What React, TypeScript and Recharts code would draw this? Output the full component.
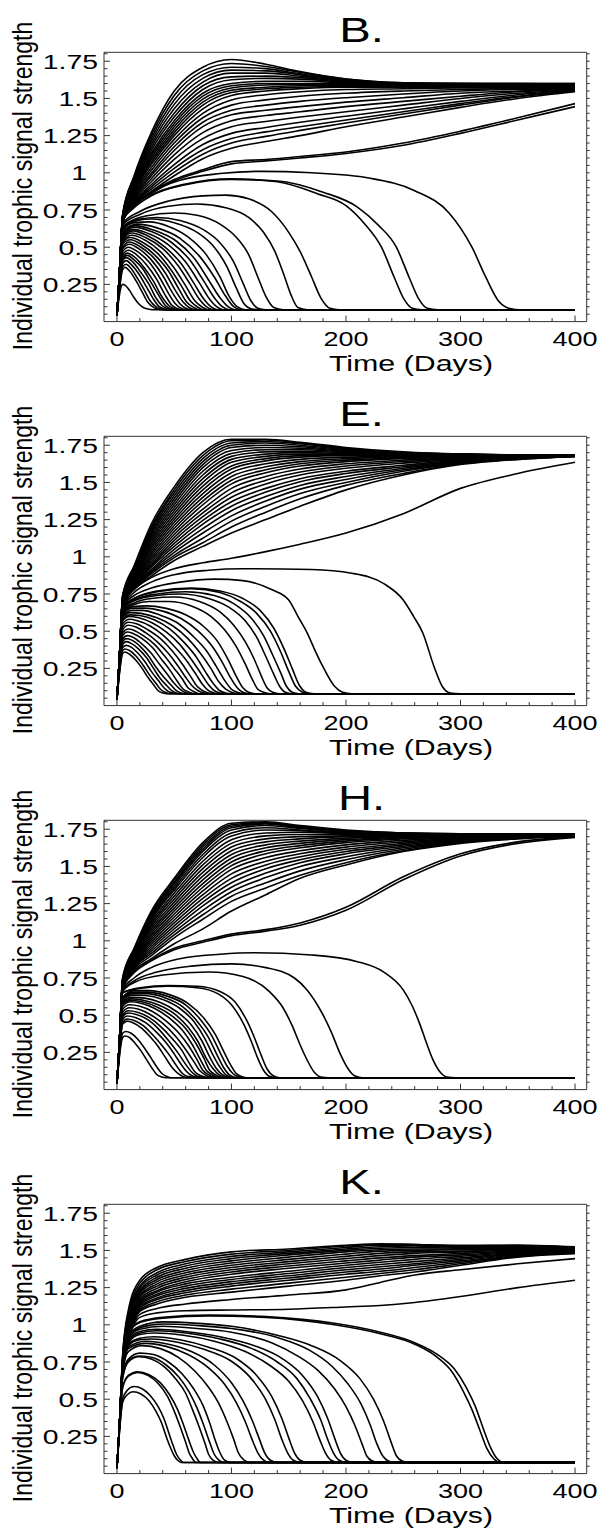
import React from 'react';
import { LineChart, Line, XAxis, YAxis } from 'recharts';

// ---------- axis ticks / labels ----------
const X_TICKS = [0, 20, 40, 60, 80, 100, 120, 140, 160, 180, 200, 220, 240, 260, 280, 300, 320, 340, 360, 380, 400];
const X_MAJOR = [0, 100, 200, 300, 400];
const Y_TICKS = [0.05, 0.1, 0.15, 0.2, 0.25, 0.3, 0.35, 0.4, 0.45, 0.5, 0.55, 0.6, 0.65, 0.7, 0.75, 0.8, 0.85, 0.9, 0.95, 1, 1.05, 1.1, 1.15, 1.2, 1.25, 1.3, 1.35, 1.4, 1.45, 1.5, 1.55, 1.6, 1.65, 1.7, 1.75, 1.8];
const Y_MAJOR = [0.25, 0.5, 0.75, 1, 1.25, 1.5, 1.75];
const TITLES = ['B.', 'E.', 'H.', 'K.'];
const X_LABEL = 'Time (Days)';
const Y_LABEL = 'Individual trophic signal strength';

// ---------- Panel B ----------
const B_T = [0, 2, 5, 15, 30, 50, 75, 100, 130, 160, 200, 250, 300, 350, 400];
const B_RISE = [
  [.04, .3, .72, .98, 1.27, 1.55, 1.71, 1.762, 1.73, 1.68, 1.63, 1.605, 1.60, 1.60, 1.60],
  [.04, .3, .72, .97, 1.25, 1.52, 1.685, 1.735, 1.715, 1.675, 1.63, 1.605, 1.60, 1.60, 1.60],
  [.04, .3, .71, .96, 1.23, 1.49, 1.66, 1.71, 1.70, 1.665, 1.625, 1.60, 1.60, 1.60, 1.595],
  [.04, .3, .71, .95, 1.21, 1.46, 1.635, 1.69, 1.685, 1.66, 1.62, 1.60, 1.60, 1.595, 1.59],
  [.04, .3, .71, .94, 1.19, 1.43, 1.61, 1.67, 1.67, 1.65, 1.62, 1.60, 1.595, 1.59, 1.59],
  [.04, .3, .70, .93, 1.17, 1.40, 1.585, 1.645, 1.65, 1.64, 1.615, 1.60, 1.595, 1.59, 1.585],
  [.04, .3, .70, .92, 1.15, 1.375, 1.56, 1.625, 1.635, 1.63, 1.61, 1.595, 1.59, 1.585, 1.58],
  [.04, .3, .70, .91, 1.13, 1.35, 1.535, 1.60, 1.615, 1.615, 1.605, 1.595, 1.59, 1.585, 1.58],
  [.04, .3, .70, .905, 1.115, 1.33, 1.515, 1.585, 1.60, 1.60, 1.60, 1.59, 1.585, 1.58, 1.575],
  [.04, .3, .70, .90, 1.10, 1.31, 1.495, 1.57, 1.59, 1.595, 1.595, 1.59, 1.585, 1.58, 1.575],
  [.04, .3, .70, .89, 1.085, 1.29, 1.475, 1.555, 1.575, 1.585, 1.585, 1.585, 1.58, 1.575, 1.57],
  [.04, .3, .70, .885, 1.07, 1.27, 1.455, 1.54, 1.565, 1.575, 1.58, 1.58, 1.58, 1.575, 1.57],
  [.04, .3, .70, .875, 1.055, 1.25, 1.43, 1.52, 1.55, 1.565, 1.575, 1.575, 1.575, 1.57, 1.565],
  [.04, .3, .69, .865, 1.035, 1.225, 1.40, 1.49, 1.525, 1.545, 1.56, 1.565, 1.57, 1.57, 1.565],
  [.04, .3, .69, .855, 1.015, 1.20, 1.37, 1.455, 1.49, 1.515, 1.535, 1.55, 1.56, 1.565, 1.565],
  [.04, .3, .69, .845, .995, 1.175, 1.34, 1.42, 1.455, 1.48, 1.505, 1.53, 1.55, 1.56, 1.56],
  [.04, .3, .69, .835, .98, 1.15, 1.31, 1.39, 1.42, 1.445, 1.475, 1.505, 1.535, 1.55, 1.56],
  [.04, .3, .68, .825, .96, 1.12, 1.27, 1.35, 1.385, 1.41, 1.445, 1.48, 1.515, 1.545, 1.56],
  [.04, .3, .68, .815, .94, 1.09, 1.23, 1.31, 1.345, 1.375, 1.41, 1.455, 1.50, 1.535, 1.555],
  [.04, .3, .68, .805, .92, 1.055, 1.19, 1.265, 1.305, 1.34, 1.38, 1.43, 1.48, 1.525, 1.555],
  [.04, .3, .68, .80, .905, 1.03, 1.155, 1.23, 1.275, 1.31, 1.355, 1.41, 1.465, 1.515, 1.55],
  [.04, .3, .67, .795, .89, 1.005, 1.125, 1.20, 1.245, 1.285, 1.335, 1.395, 1.455, 1.51, 1.55],
  [.04, .3, .67, .79, .875, .98, 1.095, 1.165, 1.21, 1.25, 1.31, 1.375, 1.44, 1.50, 1.545],
  [.04, .3, .67, .785, .87, .955, 1.02, 1.075, 1.09, 1.11, 1.14, 1.20, 1.28, 1.37, 1.465],
  [.04, .3, .67, .78, .86, .945, 1.01, 1.06, 1.08, 1.10, 1.13, 1.185, 1.265, 1.355, 1.445],
];
const B_FALL = [
  [0, .04, 2, .3, 5, .68, 15, .78, 30, .87, 55, .95, 90, .995, 125, 1.01, 170, 1.0, 220, .965, 260, .88, 290, .73, 310, .5, 322, .3, 333, .14, 343, .088, 352, .08, 400, .08],
  [0, .04, 2, .3, 5, .68, 15, .77, 30, .85, 60, .925, 100, .96, 140, .94, 175, .86, 200, .78, 216, .66, 231, .5, 242, .3, 250, .16, 258, .09, 266, .08, 400, .08],
  [0, .04, 2, .3, 5, .68, 15, .765, 30, .845, 60, .92, 100, .955, 140, .945, 180, .87, 210, .77, 228, .65, 244, .5, 255, .3, 263, .16, 271, .09, 280, .08, 400, .08],
  [0, .04, 2, .3, 5, .66, 20, .74, 45, .81, 75, .845, 95, .85, 115, .825, 135, .74, 150, .6, 160, .47, 170, .3, 178, .16, 186, .09, 194, .08, 400, .08],
  [0, .04, 2, .3, 5, .65, 20, .72, 45, .775, 70, .79, 95, .765, 115, .7, 128, .6, 138, .47, 146, .31, 152, .18, 158, .095, 166, .08, 400, .08],
  [0, .04, 2, .3, 5, .64, 25, .71, 50, .73, 70, .715, 90, .655, 105, .56, 115, .45, 123, .3, 130, .17, 137, .095, 145, .08, 400, .08],
  [0, .04, 2, .3, 5, .63, 20, .69, 35, .70, 55, .68, 75, .62, 90, .53, 102, .4, 110, .26, 117, .14, 123, .09, 130, .08, 400, .08],
  [0, .04, 2, .3, 5, .62, 18, .68, 30, .69, 50, .665, 70, .6, 85, .5, 96, .37, 104, .23, 111, .12, 118, .085, 125, .08, 400, .08],
  [0, .04, 2, .3, 5, .61, 15, .665, 28, .67, 45, .64, 62, .57, 78, .45, 90, .3, 98, .17, 105, .1, 112, .08, 400, .08],
  [0, .04, 2, .28, 5, .6, 18, .655, 35, .63, 55, .56, 72, .44, 85, .3, 95, .17, 102, .1, 108, .08, 400, .08],
  [0, .04, 2, .28, 5, .59, 16, .645, 32, .615, 52, .54, 68, .42, 80, .28, 90, .16, 97, .1, 103, .08, 400, .08],
  [0, .04, 2, .28, 5, .58, 15, .635, 30, .605, 48, .53, 64, .41, 76, .27, 86, .15, 92, .1, 98, .08, 400, .08],
  [0, .04, 2, .27, 5, .57, 14, .62, 28, .59, 45, .515, 60, .4, 72, .26, 81, .15, 87, .1, 93, .08, 400, .08],
  [0, .04, 2, .27, 5, .56, 14, .61, 26, .58, 42, .5, 56, .39, 67, .26, 76, .15, 82, .1, 88, .08, 400, .08],
  [0, .04, 2, .27, 5, .55, 13, .595, 25, .565, 40, .49, 53, .38, 64, .25, 72, .15, 78, .1, 84, .08, 400, .08],
  [0, .04, 2, .26, 5, .54, 13, .58, 24, .55, 38, .47, 50, .36, 60, .24, 68, .14, 74, .1, 80, .08, 400, .08],
  [0, .04, 2, .26, 5, .53, 12, .565, 22, .535, 36, .455, 47, .35, 57, .23, 64, .14, 70, .1, 76, .08, 400, .08],
  [0, .04, 2, .26, 5, .52, 12, .55, 21, .52, 34, .44, 45, .34, 54, .22, 61, .13, 67, .095, 72, .08, 400, .08],
  [0, .04, 2, .25, 5, .5, 11, .535, 20, .505, 32, .43, 42, .33, 51, .21, 58, .13, 63, .095, 68, .08, 400, .08],
  [0, .04, 2, .25, 5, .49, 11, .52, 19, .49, 30, .415, 40, .31, 48, .2, 55, .12, 60, .09, 64, .08, 400, .08],
  [0, .04, 2, .24, 5, .47, 10, .5, 18, .47, 28, .4, 37, .3, 45, .19, 51, .12, 56, .09, 60, .08, 400, .08],
  [0, .04, 2, .24, 5, .45, 10, .48, 17, .45, 26, .38, 35, .28, 42, .18, 48, .11, 52, .09, 56, .08, 400, .08],
  [0, .04, 2, .23, 5, .43, 9, .46, 16, .43, 24, .36, 32, .27, 39, .17, 45, .11, 49, .09, 53, .08, 400, .08],
  [0, .04, 2, .23, 5, .42, 9, .445, 15, .415, 23, .35, 30, .26, 37, .17, 42, .11, 46, .09, 50, .08, 400, .08],
  [0, .04, 2, .22, 5, .41, 8, .43, 14, .4, 21, .33, 28, .25, 34, .16, 39, .11, 43, .09, 47, .08, 400, .08],
  [0, .04, 2, .22, 5, .39, 8, .41, 13, .38, 20, .31, 26, .23, 32, .15, 37, .1, 41, .085, 45, .08, 400, .08],
  [0, .04, 2, .21, 5, .37, 8, .385, 12, .36, 18, .29, 24, .21, 29, .14, 34, .1, 38, .085, 42, .08, 400, .08],
  [0, .04, 2, .2, 5, .35, 7, .365, 11, .34, 17, .27, 22, .2, 27, .13, 31, .1, 35, .085, 39, .08, 400, .08],
  [0, .04, 2, .17, 5, .25, 7, .245, 11, .21, 15, .16, 19, .12, 23, .095, 27, .085, 31, .08, 400, .08],
];

// ---------- Panel E ----------
const E_T = [0, 2, 5, 15, 30, 50, 75, 100, 130, 160, 200, 250, 300, 350, 400];
const E_RISE = [
  [.04, .3, .74, .94, 1.22, 1.47, 1.70, 1.79, 1.79, 1.77, 1.735, 1.705, 1.69, 1.685, 1.685],
  [.04, .3, .74, .93, 1.2, 1.45, 1.68, 1.78, 1.785, 1.765, 1.73, 1.70, 1.69, 1.685, 1.685],
  [.04, .3, .73, .925, 1.19, 1.43, 1.66, 1.765, 1.775, 1.76, 1.725, 1.70, 1.69, 1.685, 1.685],
  [.04, .3, .73, .92, 1.175, 1.41, 1.64, 1.75, 1.765, 1.75, 1.72, 1.695, 1.69, 1.685, 1.685],
  [.04, .3, .73, .91, 1.16, 1.39, 1.62, 1.735, 1.75, 1.74, 1.715, 1.695, 1.685, 1.685, 1.68],
  [.04, .3, .72, .905, 1.145, 1.37, 1.60, 1.715, 1.735, 1.73, 1.71, 1.69, 1.685, 1.68, 1.68],
  [.04, .3, .72, .9, 1.13, 1.35, 1.575, 1.695, 1.72, 1.72, 1.705, 1.69, 1.685, 1.68, 1.68],
  [.04, .3, .72, .89, 1.115, 1.33, 1.55, 1.675, 1.705, 1.71, 1.70, 1.69, 1.685, 1.68, 1.68],
  [.04, .3, .72, .885, 1.10, 1.31, 1.525, 1.655, 1.69, 1.70, 1.695, 1.685, 1.68, 1.68, 1.68],
  [.04, .3, .71, .88, 1.085, 1.29, 1.50, 1.635, 1.675, 1.69, 1.69, 1.685, 1.68, 1.68, 1.68],
  [.04, .3, .71, .87, 1.07, 1.27, 1.475, 1.61, 1.66, 1.68, 1.685, 1.68, 1.68, 1.68, 1.68],
  [.04, .3, .71, .865, 1.055, 1.25, 1.45, 1.59, 1.645, 1.67, 1.68, 1.68, 1.68, 1.68, 1.68],
  [.04, .3, .71, .86, 1.04, 1.23, 1.425, 1.565, 1.625, 1.655, 1.67, 1.675, 1.68, 1.68, 1.68],
  [.04, .3, .70, .85, 1.025, 1.21, 1.40, 1.54, 1.605, 1.64, 1.66, 1.67, 1.675, 1.68, 1.68],
  [.04, .3, .70, .845, 1.01, 1.19, 1.375, 1.515, 1.585, 1.625, 1.65, 1.665, 1.675, 1.68, 1.68],
  [.04, .3, .70, .84, .995, 1.17, 1.35, 1.49, 1.565, 1.61, 1.64, 1.66, 1.67, 1.675, 1.68],
  [.04, .3, .70, .83, .98, 1.15, 1.32, 1.46, 1.54, 1.59, 1.625, 1.65, 1.665, 1.675, 1.68],
  [.04, .3, .70, .825, .965, 1.13, 1.295, 1.43, 1.515, 1.57, 1.61, 1.64, 1.66, 1.67, 1.68],
  [.04, .3, .69, .82, .95, 1.11, 1.27, 1.40, 1.49, 1.55, 1.595, 1.63, 1.655, 1.67, 1.68],
  [.04, .3, .69, .81, .94, 1.09, 1.245, 1.37, 1.46, 1.525, 1.575, 1.615, 1.65, 1.67, 1.68],
  [.04, .3, .69, .805, .93, 1.07, 1.22, 1.34, 1.435, 1.505, 1.56, 1.605, 1.645, 1.665, 1.68],
  [.04, .3, .69, .80, .915, 1.05, 1.19, 1.31, 1.405, 1.48, 1.54, 1.595, 1.64, 1.665, 1.68],
  [.04, .3, .69, .795, .905, 1.03, 1.16, 1.275, 1.375, 1.455, 1.52, 1.585, 1.635, 1.66, 1.675],
  [.04, .3, .68, .79, .895, 1.01, 1.125, 1.24, 1.34, 1.425, 1.50, 1.575, 1.63, 1.66, 1.675],
  [.04, .3, .68, .785, .885, .995, 1.095, 1.20, 1.30, 1.39, 1.48, 1.56, 1.625, 1.655, 1.675],
  [.04, .3, .68, .78, .87, .975, 1.07, 1.16, 1.25, 1.34, 1.45, 1.55, 1.62, 1.655, 1.675],
  [.04, .3, .68, .78, .86, .92, .96, .99, 1.035, 1.085, 1.16, 1.29, 1.46, 1.56, 1.635],
];
const E_FALL = [
  [0, .04, 2, .3, 5, .67, 15, .76, 30, .83, 50, .88, 80, .91, 110, .92, 170, .915, 205, .89, 233, .82, 250, .71, 259, .6, 267, .49, 277, .26, 284, .13, 291, .085, 300, .08, 400, .08],
  [0, .04, 2, .3, 5, .67, 15, .74, 30, .79, 55, .83, 85, .85, 110, .84, 135, .78, 150, .71, 158, .6, 166, .49, 173, .37, 180, .26, 190, .13, 197, .09, 205, .08, 400, .08],
  [0, .04, 2, .3, 5, .66, 15, .72, 35, .77, 65, .79, 90, .77, 110, .72, 125, .64, 137, .52, 146, .38, 153, .25, 159, .14, 165, .09, 172, .08, 400, .08],
  [0, .04, 2, .3, 5, .66, 15, .72, 35, .765, 65, .785, 90, .76, 108, .7, 122, .62, 134, .5, 143, .36, 150, .23, 156, .13, 162, .09, 168, .08, 400, .08],
  [0, .04, 2, .3, 5, .65, 15, .71, 35, .75, 60, .765, 85, .74, 103, .68, 117, .59, 128, .47, 136, .34, 143, .22, 148, .13, 153, .09, 159, .08, 400, .08],
  [0, .04, 2, .3, 5, .65, 15, .705, 35, .74, 55, .75, 80, .72, 98, .66, 112, .57, 122, .46, 130, .33, 137, .21, 142, .13, 147, .09, 153, .08, 400, .08],
  [0, .04, 2, .3, 5, .64, 15, .69, 30, .72, 50, .73, 72, .7, 90, .63, 102, .54, 112, .43, 120, .31, 126, .2, 131, .12, 136, .09, 142, .08, 400, .08],
  [0, .04, 2, .3, 5, .63, 15, .68, 28, .7, 45, .7, 65, .67, 82, .6, 94, .51, 104, .4, 112, .28, 118, .18, 123, .11, 128, .09, 134, .08, 400, .08],
  [0, .04, 2, .29, 5, .62, 14, .665, 26, .67, 42, .655, 60, .61, 76, .53, 88, .43, 97, .31, 104, .2, 110, .12, 115, .09, 121, .08, 400, .08],
  [0, .04, 2, .29, 5, .61, 13, .655, 24, .655, 40, .635, 56, .585, 71, .5, 83, .4, 92, .29, 99, .19, 105, .12, 110, .09, 116, .08, 400, .08],
  [0, .04, 2, .28, 5, .6, 13, .64, 22, .64, 37, .61, 52, .56, 66, .47, 78, .37, 87, .26, 94, .17, 100, .11, 105, .09, 111, .08, 400, .08],
  [0, .04, 2, .28, 5, .59, 12, .625, 21, .62, 35, .59, 49, .535, 62, .45, 73, .35, 82, .25, 89, .16, 95, .11, 100, .09, 106, .08, 400, .08],
  [0, .04, 2, .28, 5, .58, 12, .61, 20, .605, 33, .575, 46, .515, 58, .43, 69, .33, 77, .23, 84, .15, 90, .1, 95, .085, 100, .08, 400, .08],
  [0, .04, 2, .27, 5, .57, 11, .6, 19, .59, 31, .555, 43, .495, 55, .41, 65, .31, 73, .22, 80, .14, 85, .1, 90, .085, 95, .08, 400, .08],
  [0, .04, 2, .27, 5, .55, 11, .58, 18, .57, 29, .535, 40, .475, 51, .39, 61, .3, 69, .21, 75, .14, 80, .1, 85, .085, 90, .08, 400, .08],
  [0, .04, 2, .27, 5, .53, 10, .56, 17, .55, 27, .51, 38, .45, 48, .37, 57, .28, 64, .2, 70, .13, 75, .1, 80, .085, 85, .08, 400, .08],
  [0, .04, 2, .26, 5, .51, 10, .54, 16, .53, 25, .49, 35, .43, 45, .35, 53, .27, 60, .19, 66, .13, 71, .1, 76, .085, 80, .08, 400, .08],
  [0, .04, 2, .26, 5, .49, 10, .515, 15, .505, 23, .47, 33, .41, 42, .33, 50, .25, 57, .18, 62, .12, 67, .095, 72, .08, 400, .08],
  [0, .04, 2, .25, 5, .47, 9, .495, 14, .485, 22, .45, 31, .39, 39, .31, 47, .23, 53, .16, 58, .11, 63, .09, 68, .08, 400, .08],
  [0, .04, 2, .25, 5, .45, 9, .47, 14, .46, 21, .42, 29, .36, 37, .28, 44, .21, 50, .15, 55, .11, 59, .09, 64, .08, 400, .08],
  [0, .04, 2, .24, 5, .43, 8, .45, 13, .44, 20, .4, 27, .34, 34, .26, 41, .19, 47, .14, 52, .1, 56, .085, 60, .08, 400, .08],
  [0, .04, 2, .23, 5, .41, 8, .43, 12, .42, 19, .38, 26, .32, 32, .25, 38, .18, 44, .13, 48, .1, 52, .085, 56, .08, 400, .08],
  [0, .04, 2, .22, 5, .39, 8, .405, 12, .395, 18, .355, 24, .3, 30, .23, 36, .17, 41, .12, 45, .095, 49, .085, 53, .08, 400, .08],
  [0, .04, 2, .21, 5, .37, 7, .38, 11, .37, 17, .33, 23, .27, 29, .2, 34, .15, 38, .11, 42, .09, 46, .08, 400, .08],
  [0, .04, 2, .2, 5, .35, 7, .36, 11, .345, 16, .31, 22, .25, 27, .19, 32, .14, 36, .1, 40, .085, 44, .08, 400, .08],
];

// ---------- Panel H ----------
const H_T = [0, 2, 5, 15, 30, 50, 75, 100, 130, 160, 200, 250, 300, 350, 400];
const H_RISE = [
  [.04, .3, .75, .95, 1.2, 1.42, 1.66, 1.79, 1.80, 1.775, 1.745, 1.725, 1.72, 1.72, 1.72],
  [.04, .3, .75, .945, 1.19, 1.41, 1.645, 1.78, 1.795, 1.77, 1.74, 1.725, 1.72, 1.72, 1.72],
  [.04, .3, .74, .94, 1.18, 1.395, 1.63, 1.77, 1.79, 1.765, 1.74, 1.725, 1.72, 1.72, 1.72],
  [.04, .3, .74, .935, 1.17, 1.385, 1.615, 1.76, 1.785, 1.76, 1.735, 1.72, 1.72, 1.72, 1.715],
  [.04, .3, .74, .93, 1.16, 1.37, 1.60, 1.745, 1.775, 1.755, 1.73, 1.72, 1.715, 1.715, 1.715],
  [.04, .3, .73, .925, 1.15, 1.355, 1.58, 1.725, 1.76, 1.745, 1.725, 1.715, 1.715, 1.715, 1.715],
  [.04, .3, .73, .92, 1.14, 1.34, 1.56, 1.705, 1.745, 1.74, 1.72, 1.715, 1.715, 1.715, 1.715],
  [.04, .3, .73, .91, 1.125, 1.32, 1.535, 1.68, 1.725, 1.73, 1.72, 1.715, 1.715, 1.715, 1.71],
  [.04, .3, .73, .905, 1.11, 1.30, 1.51, 1.655, 1.705, 1.715, 1.715, 1.71, 1.71, 1.71, 1.71],
  [.04, .3, .72, .9, 1.095, 1.28, 1.485, 1.63, 1.685, 1.70, 1.705, 1.71, 1.71, 1.71, 1.71],
  [.04, .3, .72, .89, 1.08, 1.26, 1.46, 1.605, 1.665, 1.685, 1.70, 1.705, 1.71, 1.71, 1.71],
  [.04, .3, .72, .885, 1.065, 1.24, 1.435, 1.58, 1.645, 1.67, 1.69, 1.70, 1.705, 1.71, 1.71],
  [.04, .3, .72, .88, 1.05, 1.22, 1.41, 1.555, 1.625, 1.655, 1.68, 1.695, 1.705, 1.71, 1.71],
  [.04, .3, .71, .87, 1.035, 1.20, 1.385, 1.53, 1.605, 1.64, 1.67, 1.69, 1.70, 1.705, 1.71],
  [.04, .3, .71, .865, 1.02, 1.18, 1.36, 1.505, 1.585, 1.625, 1.66, 1.685, 1.70, 1.705, 1.71],
  [.04, .3, .71, .86, 1.005, 1.16, 1.335, 1.48, 1.56, 1.605, 1.645, 1.675, 1.695, 1.705, 1.71],
  [.04, .3, .71, .85, .99, 1.14, 1.31, 1.45, 1.535, 1.585, 1.63, 1.665, 1.69, 1.70, 1.71],
  [.04, .3, .70, .845, .975, 1.12, 1.285, 1.42, 1.51, 1.565, 1.615, 1.655, 1.685, 1.70, 1.71],
  [.04, .3, .70, .84, .96, 1.10, 1.26, 1.39, 1.485, 1.545, 1.60, 1.645, 1.68, 1.70, 1.71],
  [.04, .3, .70, .83, .945, 1.08, 1.235, 1.36, 1.455, 1.525, 1.585, 1.635, 1.675, 1.695, 1.705],
  [.04, .3, .70, .825, .93, 1.06, 1.205, 1.33, 1.425, 1.50, 1.565, 1.625, 1.67, 1.695, 1.705],
  [.04, .3, .69, .82, .915, 1.04, 1.175, 1.30, 1.39, 1.47, 1.545, 1.615, 1.665, 1.69, 1.705],
  [.04, .3, .69, .81, .90, 1.02, 1.145, 1.265, 1.355, 1.44, 1.525, 1.605, 1.66, 1.69, 1.705],
  [.04, .3, .69, .80, .88, .98, 1.08, 1.20, 1.31, 1.42, 1.51, 1.60, 1.655, 1.685, 1.705],
  [.04, .3, .68, .79, .87, .95, 1.0, 1.045, 1.075, 1.12, 1.225, 1.43, 1.585, 1.665, 1.70],
  [.04, .3, .68, .785, .865, .94, .99, 1.035, 1.065, 1.105, 1.205, 1.41, 1.57, 1.655, 1.695],
];
const H_FALL = [
  [0, .04, 2, .3, 5, .67, 15, .75, 30, .82, 55, .88, 90, .91, 120, .92, 170, .905, 210, .86, 233, .79, 250, .67, 258, .56, 264, .45, 270, .32, 276, .2, 282, .12, 288, .085, 296, .08, 400, .08],
  [0, .04, 2, .3, 5, .66, 15, .73, 35, .79, 65, .83, 100, .845, 130, .82, 155, .75, 166, .67, 178, .53, 187, .39, 195, .24, 201, .15, 207, .095, 214, .08, 400, .08],
  [0, .04, 2, .3, 5, .66, 15, .72, 40, .77, 80, .79, 110, .76, 133, .66, 145, .55, 153, .43, 160, .3, 166, .2, 172, .12, 178, .085, 185, .08, 400, .08],
  [0, .04, 2, .3, 5, .65, 20, .685, 45, .70, 70, .695, 90, .66, 103, .59, 113, .47, 120, .35, 126, .23, 131, .14, 136, .095, 142, .08, 400, .08],
  [0, .04, 2, .3, 5, .65, 20, .68, 45, .695, 70, .685, 88, .645, 100, .57, 110, .45, 117, .33, 123, .21, 128, .13, 133, .09, 139, .08, 400, .08],
  [0, .04, 2, .3, 5, .62, 15, .665, 28, .665, 45, .64, 62, .58, 76, .48, 86, .37, 93, .26, 99, .17, 104, .11, 108, .09, 113, .08, 400, .08],
  [0, .04, 2, .29, 5, .615, 15, .655, 27, .655, 43, .63, 60, .57, 73, .47, 83, .36, 90, .25, 96, .16, 101, .11, 105, .09, 110, .08, 400, .08],
  [0, .04, 2, .29, 5, .61, 14, .645, 26, .645, 41, .62, 57, .56, 70, .46, 80, .35, 87, .24, 93, .15, 98, .1, 102, .085, 107, .08, 400, .08],
  [0, .04, 2, .29, 5, .6, 14, .635, 25, .632, 40, .605, 55, .545, 68, .45, 77, .34, 84, .23, 90, .15, 95, .1, 99, .085, 104, .08, 400, .08],
  [0, .04, 2, .28, 5, .59, 13, .62, 24, .615, 38, .585, 52, .525, 65, .435, 74, .33, 81, .22, 87, .14, 92, .1, 96, .085, 101, .08, 400, .08],
  [0, .04, 2, .28, 5, .58, 13, .61, 23, .6, 36, .57, 50, .51, 62, .42, 71, .32, 78, .21, 84, .14, 89, .1, 93, .085, 98, .08, 400, .08],
  [0, .04, 2, .28, 5, .57, 12, .6, 22, .59, 35, .555, 48, .495, 60, .41, 69, .31, 76, .21, 81, .13, 86, .1, 90, .085, 95, .08, 400, .08],
  [0, .04, 2, .27, 5, .56, 12, .59, 21, .58, 33, .545, 46, .48, 57, .4, 66, .3, 73, .2, 78, .13, 83, .1, 87, .085, 92, .08, 400, .08],
  [0, .04, 2, .27, 5, .54, 11, .57, 20, .56, 31, .525, 43, .46, 54, .38, 63, .29, 70, .2, 75, .13, 80, .1, 84, .085, 89, .08, 400, .08],
  [0, .04, 2, .26, 5, .52, 11, .55, 19, .54, 29, .505, 40, .445, 51, .36, 60, .27, 67, .19, 72, .13, 77, .1, 81, .085, 86, .08, 400, .08],
  [0, .04, 2, .26, 5, .5, 10, .53, 18, .52, 28, .485, 38, .425, 48, .345, 57, .26, 63, .18, 68, .12, 73, .095, 77, .085, 82, .08, 400, .08],
  [0, .04, 2, .25, 5, .49, 10, .515, 17, .505, 27, .47, 36, .41, 45, .33, 53, .25, 60, .17, 65, .12, 69, .095, 73, .085, 78, .08, 400, .08],
  [0, .04, 2, .25, 5, .47, 9, .495, 16, .485, 25, .45, 34, .39, 43, .315, 50, .24, 56, .17, 61, .12, 65, .095, 69, .085, 74, .08, 400, .08],
  [0, .04, 2, .24, 5, .45, 9, .475, 15, .465, 23, .43, 31, .37, 39, .3, 46, .23, 52, .16, 57, .11, 61, .09, 65, .085, 70, .08, 400, .08],
  [0, .04, 2, .24, 5, .44, 9, .46, 14, .45, 22, .41, 29, .355, 36, .29, 42, .22, 48, .15, 53, .11, 57, .09, 61, .08, 400, .08],
  [0, .04, 2, .22, 5, .38, 8, .39, 12, .38, 18, .34, 24, .28, 30, .21, 35, .15, 39, .11, 43, .09, 47, .08, 400, .08],
  [0, .04, 2, .21, 5, .35, 7, .36, 11, .35, 16, .31, 21, .26, 26, .2, 31, .14, 35, .1, 39, .085, 43, .08, 400, .08],
];

// ---------- Panel K ----------
const K_T = [0, 2, 5, 10, 20, 35, 60, 100, 150, 200, 230, 260, 300, 350, 400];
const K_RISE = [
  [.035, .3, .8, 1.1, 1.3, 1.385, 1.44, 1.49, 1.51, 1.535, 1.545, 1.54, 1.535, 1.535, 1.525],
  [.035, .3, .79, 1.08, 1.28, 1.37, 1.425, 1.475, 1.50, 1.53, 1.54, 1.54, 1.53, 1.535, 1.52],
  [.035, .3, .78, 1.06, 1.26, 1.35, 1.41, 1.46, 1.49, 1.52, 1.535, 1.535, 1.525, 1.53, 1.515],
  [.035, .3, .77, 1.05, 1.245, 1.335, 1.395, 1.445, 1.48, 1.51, 1.525, 1.53, 1.52, 1.525, 1.515],
  [.035, .3, .77, 1.04, 1.23, 1.32, 1.38, 1.43, 1.47, 1.50, 1.515, 1.52, 1.515, 1.52, 1.51],
  [.035, .3, .76, 1.03, 1.22, 1.305, 1.365, 1.415, 1.455, 1.49, 1.505, 1.51, 1.51, 1.515, 1.51],
  [.035, .3, .76, 1.02, 1.21, 1.29, 1.35, 1.40, 1.44, 1.475, 1.495, 1.50, 1.505, 1.51, 1.505],
  [.035, .3, .75, 1.01, 1.195, 1.275, 1.335, 1.385, 1.425, 1.46, 1.48, 1.49, 1.495, 1.505, 1.505],
  [.035, .3, .75, 1.0, 1.185, 1.26, 1.32, 1.37, 1.41, 1.445, 1.465, 1.48, 1.49, 1.50, 1.50],
  [.035, .3, .74, .99, 1.17, 1.245, 1.305, 1.355, 1.395, 1.43, 1.45, 1.465, 1.48, 1.495, 1.50],
  [.035, .3, .74, .98, 1.16, 1.23, 1.29, 1.34, 1.38, 1.415, 1.435, 1.455, 1.47, 1.49, 1.495],
  [.035, .3, .73, .97, 1.15, 1.22, 1.275, 1.32, 1.36, 1.40, 1.42, 1.44, 1.46, 1.485, 1.495],
  [.035, .3, .73, .96, 1.14, 1.205, 1.26, 1.305, 1.345, 1.385, 1.405, 1.425, 1.45, 1.48, 1.49],
  [.035, .3, .72, .95, 1.13, 1.195, 1.245, 1.29, 1.33, 1.37, 1.39, 1.41, 1.44, 1.475, 1.49],
  [.035, .3, .72, .94, 1.12, 1.18, 1.23, 1.275, 1.315, 1.355, 1.375, 1.40, 1.43, 1.47, 1.485],
  [.035, .3, .71, .93, 1.11, 1.17, 1.215, 1.26, 1.30, 1.34, 1.36, 1.385, 1.42, 1.465, 1.485],
  [.035, .3, .71, .92, 1.10, 1.155, 1.20, 1.24, 1.28, 1.32, 1.345, 1.37, 1.41, 1.46, 1.48],
  [.035, .3, .70, .91, 1.09, 1.14, 1.185, 1.22, 1.26, 1.30, 1.33, 1.355, 1.40, 1.455, 1.48],
  [.035, .3, .70, .90, 1.07, 1.11, 1.14, 1.17, 1.20, 1.235, 1.285, 1.335, 1.37, 1.41, 1.445],
  [.035, .3, .69, .89, 1.05, 1.08, 1.095, 1.10, 1.105, 1.12, 1.13, 1.15, 1.19, 1.25, 1.30],
];
const K_FALL = [
  [0, .035, 2, .3, 5, .75, 10, .95, 20, 1.02, 40, 1.05, 80, 1.065, 130, 1.055, 190, 1.01, 230, .95, 260, .88, 280, .8, 295, .7, 305, .58, 313, .45, 320, .3, 326, .18, 332, .1, 338, .075, 400, .075],
  [0, .035, 2, .3, 5, .75, 10, .945, 20, 1.015, 40, 1.045, 80, 1.06, 130, 1.05, 190, 1.0, 230, .94, 260, .87, 280, .78, 293, .68, 302, .56, 310, .43, 317, .29, 323, .17, 329, .1, 335, .075, 400, .075],
  [0, .035, 2, .3, 5, .74, 10, .93, 20, .99, 40, 1.02, 70, 1.01, 100, .99, 140, .93, 170, .86, 195, .76, 212, .64, 224, .5, 233, .35, 239, .22, 244, .12, 249, .085, 255, .075, 400, .075],
  [0, .035, 2, .3, 5, .73, 10, .92, 20, .98, 40, 1.005, 70, .995, 100, .975, 140, .915, 168, .83, 188, .72, 202, .6, 213, .47, 221, .33, 227, .2, 232, .12, 237, .085, 243, .075, 400, .075],
  [0, .035, 2, .3, 5, .72, 10, .91, 20, .97, 40, .99, 70, .975, 100, .95, 135, .88, 158, .79, 176, .69, 190, .57, 200, .45, 208, .32, 214, .2, 218, .12, 223, .085, 229, .075, 400, .075],
  [0, .035, 2, .3, 5, .72, 10, .9, 20, .955, 35, .97, 60, .955, 90, .92, 120, .86, 145, .77, 162, .66, 175, .52, 184, .37, 190, .24, 195, .14, 200, .09, 206, .075, 400, .075],
  [0, .035, 2, .3, 5, .71, 10, .89, 20, .945, 35, .96, 60, .945, 90, .905, 118, .84, 140, .75, 157, .64, 169, .5, 178, .36, 184, .23, 189, .14, 194, .09, 200, .075, 400, .075],
  [0, .035, 2, .3, 5, .71, 10, .88, 20, .935, 33, .945, 58, .93, 85, .89, 112, .82, 133, .73, 150, .62, 162, .49, 171, .35, 177, .23, 182, .14, 187, .09, 193, .075, 400, .075],
  [0, .035, 2, .3, 5, .7, 10, .87, 20, .91, 32, .92, 55, .9, 80, .85, 105, .77, 122, .66, 135, .52, 144, .37, 150, .24, 155, .14, 160, .09, 166, .075, 400, .075],
  [0, .035, 2, .3, 5, .7, 10, .86, 20, .9, 30, .905, 52, .885, 76, .835, 100, .755, 116, .65, 129, .51, 138, .36, 144, .23, 149, .14, 154, .09, 160, .075, 400, .075],
  [0, .035, 2, .3, 5, .69, 10, .85, 25, .89, 45, .87, 65, .82, 85, .73, 100, .61, 110, .49, 118, .36, 124, .24, 129, .14, 134, .09, 140, .075, 400, .075],
  [0, .035, 2, .3, 5, .69, 10, .84, 25, .875, 43, .855, 62, .8, 80, .71, 94, .6, 104, .48, 112, .35, 118, .23, 123, .14, 128, .09, 133, .075, 400, .075],
  [0, .035, 2, .3, 5, .68, 10, .82, 22, .86, 38, .84, 54, .78, 68, .69, 80, .58, 89, .47, 96, .35, 102, .23, 106, .14, 111, .09, 116, .075, 400, .075],
  [0, .035, 2, .3, 5, .66, 10, .77, 20, .81, 32, .8, 45, .75, 57, .67, 67, .57, 75, .46, 81, .34, 86, .22, 90, .14, 94, .09, 99, .075, 400, .075],
  [0, .035, 2, .3, 5, .65, 10, .76, 20, .79, 31, .78, 43, .73, 54, .65, 63, .55, 70, .44, 76, .32, 81, .21, 85, .13, 89, .09, 93, .075, 400, .075],
  [0, .035, 2, .3, 5, .64, 10, .75, 19, .785, 30, .77, 41, .72, 51, .64, 60, .54, 66, .43, 72, .31, 77, .2, 80, .13, 84, .09, 88, .075, 400, .075],
  [0, .035, 2, .28, 5, .58, 10, .66, 18, .685, 28, .665, 38, .61, 46, .53, 53, .43, 58, .33, 63, .22, 67, .14, 70, .1, 73, .075, 400, .075],
  [0, .035, 2, .28, 5, .58, 10, .655, 18, .68, 27, .66, 36, .605, 44, .52, 50, .42, 55, .32, 60, .21, 63, .14, 66, .1, 69, .075, 400, .075],
  [0, .035, 2, .26, 5, .5, 9, .56, 15, .585, 22, .57, 29, .525, 36, .45, 41, .37, 45, .28, 49, .19, 52, .13, 55, .095, 58, .075, 400, .075],
  [0, .035, 2, .26, 5, .48, 9, .53, 14, .55, 21, .535, 28, .49, 34, .42, 39, .34, 43, .25, 47, .17, 50, .12, 53, .09, 56, .075, 400, .075],
];

// ---------- rendering ----------
const FONT = '"Liberation Sans", Arial, Helvetica, sans-serif';
const FRAME = '#333';
const SX = 1.35;
const X_DOMAIN: [number, number] = [-11.3, 410.2];
const Y_DOMAIN: [number, number] = [0, 1.81];

type Pt = { t: number; v: number };
const near = (a: number, b: number) => Math.abs(a - b) < 1e-6;
const fromGrid = (ts: number[], vs: number[]): Pt[] => ts.map((t, i) => ({ t, v: vs[i] }));
const fromFlat = (f: number[]): Pt[] => {
  const out: Pt[] = [];
  for (let i = 0; i < f.length; i += 2) out.push({ t: f[i], v: f[i + 1] });
  return out;
};

// bottom axis: tick props x,y = point on the axis line (tickSize/tickMargin 0)
const XTick = (props: any) => {
  const { x, y, payload } = props;
  const v = payload.value;
  const major = X_MAJOR.some((m) => near(m, v));
  return (
    <g>
      <line x1={x} x2={x} y1={y} y2={y - (major ? 6 : 3.5)} stroke={FRAME} strokeWidth={1} />
      {major ? (
        <text transform={`translate(${x},${y + 24.5}) scale(${SX},1)`} textAnchor="middle" fontFamily={FONT} fontSize={20} fill="#000">
          {String(v)}
        </text>
      ) : null}
    </g>
  );
};

const YTickL = (props: any) => {
  const { x, y, payload } = props;
  const v = payload.value;
  const major = Y_MAJOR.some((m) => near(m, v));
  const endX = near(v, 1) ? x - 17 : x - 6;
  return (
    <g>
      <line x1={x} x2={x + (major ? 6 : 3.5)} y1={y} y2={y} stroke={FRAME} strokeWidth={1} />
      {major ? (
        <text transform={`translate(${endX},${y + 7.5}) scale(${SX},1)`} textAnchor="end" fontFamily={FONT} fontSize={21} fill="#000">
          {String(v)}
        </text>
      ) : null}
    </g>
  );
};

const YTickR = (props: any) => {
  const { x, y } = props;
  return <line x1={x} x2={x + 3} y1={y} y2={y} stroke={FRAME} strokeWidth={1} />;
};

// plot area: x 104 .. 586.7, y 52.3 .. 321.6 within each 605x384 panel
const AX_B = 30; // bottom axis band height
const AX_L = 60; // left axis band width
const AX_R = 10; // right axis band width
const AX_T = 2; // top axis band height

function Panel({ title, top, grid, rise, fall }: { title: string; top: number; grid: number[]; rise: number[][]; fall: number[][] }) {
  const series: Pt[][] = [...rise.map((r) => fromGrid(grid, r)), ...fall.map(fromFlat)];
  return (
    <div style={{ position: 'absolute', left: 0, top, width: 605, height: 384 }}>
      <LineChart width={605} height={384}
        margin={{ top: 52.3 - AX_T, right: 605 - 586.7 - AX_R, bottom: 384 - 321.6 - AX_B, left: 104 - AX_L }}>
        <XAxis xAxisId="b" orientation="bottom" dataKey="t" type="number" domain={X_DOMAIN} allowDataOverflow ticks={X_TICKS} interval={0}
          height={AX_B} tickSize={0} tickMargin={0} tickLine={false} axisLine={{ stroke: FRAME, strokeWidth: 1 }}
          tick={(p: any) => <XTick {...p} />} />
        <XAxis xAxisId="t" orientation="top" dataKey="t" type="number" domain={X_DOMAIN} allowDataOverflow ticks={X_MAJOR}
          height={AX_T} tick={false} tickLine={false} axisLine={{ stroke: FRAME, strokeWidth: 1 }} />
        <YAxis yAxisId="l" orientation="left" type="number" domain={Y_DOMAIN} allowDataOverflow ticks={Y_TICKS} interval={0}
          width={AX_L} tickSize={0} tickMargin={0} tickLine={false} axisLine={{ stroke: FRAME, strokeWidth: 1 }}
          tick={(p: any) => <YTickL {...p} />} />
        <YAxis yAxisId="r" orientation="right" type="number" domain={Y_DOMAIN} allowDataOverflow ticks={Y_TICKS} interval={0}
          width={AX_R} tickSize={0} tickMargin={0} tickLine={false} axisLine={{ stroke: FRAME, strokeWidth: 1 }}
          tick={(p: any) => <YTickR {...p} />} />
        {series.map((d, i) => (
          <Line key={i} xAxisId="b" yAxisId="l" data={d} dataKey="v" type="monotone" stroke="#000"
            strokeWidth={1.6} dot={false} activeDot={false} isAnimationActive={false} />
        ))}
      </LineChart>
      <svg width={605} height={384} style={{ position: 'absolute', left: 0, top: 0, pointerEvents: 'none' }}>
        <text transform={`translate(361.5,41.7) scale(${SX},1)`} textAnchor="middle" fontFamily={FONT} fontSize={35} fill="#000">{title}</text>
        <text transform={`translate(411,371) scale(${SX},1)`} textAnchor="middle" fontFamily={FONT} fontSize={22.5} fill="#000">{X_LABEL}</text>
        <text transform="translate(32,186) scale(1.2,1) rotate(-90)" textAnchor="middle" fontFamily={FONT} fontSize={23} fill="#000">{Y_LABEL}</text>
      </svg>
    </div>
  );
}

export default function App() {
  return (
    <div style={{ position: 'absolute', left: 0, top: 0, width: 605, height: 1533, background: '#fff', overflow: 'hidden' }}>
      <Panel title={TITLES[0]} top={0} grid={B_T} rise={B_RISE} fall={B_FALL} />
      <Panel title={TITLES[1]} top={384.4} grid={E_T} rise={E_RISE} fall={E_FALL} />
      <Panel title={TITLES[2]} top={768} grid={H_T} rise={H_RISE} fall={H_FALL} />
      <Panel title={TITLES[3]} top={1152} grid={K_T} rise={K_RISE} fall={K_FALL} />
    </div>
  );
}
